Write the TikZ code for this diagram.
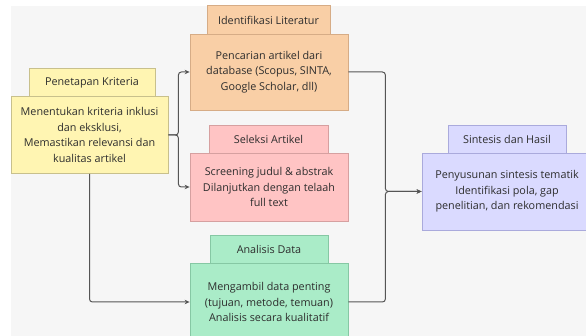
\documentclass[tikz,border=0pt]{standalone}
\usepackage{fontspec}
\setmainfont{Open Sans}
\usetikzlibrary{arrows.meta}
\definecolor{bg}{RGB}{246,246,246}
\definecolor{yelF}{RGB}{255,245,178}
\definecolor{yelD}{RGB}{200,192,140}
\definecolor{oraF}{RGB}{249,207,166}
\definecolor{oraD}{RGB}{214,172,134}
\definecolor{pinF}{RGB}{255,196,196}
\definecolor{pinD}{RGB}{214,160,160}
\definecolor{grnF}{RGB}{170,236,200}
\definecolor{grnD}{RGB}{134,200,164}
\definecolor{lavF}{RGB}{218,218,255}
\definecolor{lavD}{RGB}{170,170,220}
\definecolor{txt}{RGB}{45,45,45}
\definecolor{ln}{RGB}{85,85,85}
\begin{document}
\begin{tikzpicture}[x=1pt,y=-1pt,
  box/.style={draw=#1D,fill=#1F,line width=0.8pt,inner sep=0pt,align=center,
    text=txt,font=\fontsize{10.8}{15.6}\selectfont},
  conn/.style={draw=ln,line width=1pt,rounded corners=3pt,-{Stealth[length=5pt,width=4.5pt]}}]
\useasboundingbox (0,0) rectangle (586,336);
\fill[white] (0,0) rectangle (586,336);
\fill[bg] (11,6) rectangle (586,336);
% Kriteria
\node[box=yel,minimum width=126pt,minimum height=29pt] (kritT) at (92,82.5) {Penetapan Kriteria};
\node[box=yel,minimum width=157pt,minimum height=77pt] (krit) at (89.5,135)
  {Menentukan kriteria inklusi\\dan eksklusi,\\Memastikan relevansi dan\\kualitas artikel};
% Identifikasi
\node[box=ora,minimum width=123pt,minimum height=29pt] (pencT) at (268.5,20) {Identifikasi Literatur};
\node[box=ora,minimum width=158pt,minimum height=76pt] (penc) at (269,72)
  {Pencarian artikel dari\\database (Scopus, SINTA,\\Google Scholar, dll)};
% Seleksi
\node[box=pin,minimum width=119pt,minimum height=28pt] (selT) at (268.5,139) {Seleksi Artikel};
\node[box=pin,minimum width=158pt,minimum height=68pt] (sel) at (269,187)
  {Screening judul \& abstrak\\Dilanjutkan dengan telaah\\full text};
% Analisis
\node[box=grn,minimum width=118pt,minimum height=28pt] (anaT) at (269,249) {Analisis Data};
\node[box=grn,minimum width=158pt,minimum height=78pt] (ana) at (269,302)
  {Mengambil data penting\\(tujuan, metode, temuan)\\Analisis secara kualitatif};
% Sintesis
\node[box=lav,minimum width=118pt,minimum height=28pt] (sinT) at (507,139) {Sintesis dan Hasil};
\node[box=lav,minimum width=170pt,minimum height=77pt] (sin) at (507,191.5)
  {Penyusunan sintesis tematik\\Identifikasi pola, gap\\penelitian, dan rekomendasi};
% connectors
\draw[conn] (krit.east) -- ++(10,0) |- (penc.west);
\draw[conn] (krit.east) -- ++(10,0) |- (sel.west);
\draw[conn] (krit.south) |- (ana.west);
\draw[conn] (penc.east) -- ++(37,0) |- (sin.west);
\draw[conn] (ana.east) -- ++(37,0) |- (sin.west);
\end{tikzpicture}
\end{document}
